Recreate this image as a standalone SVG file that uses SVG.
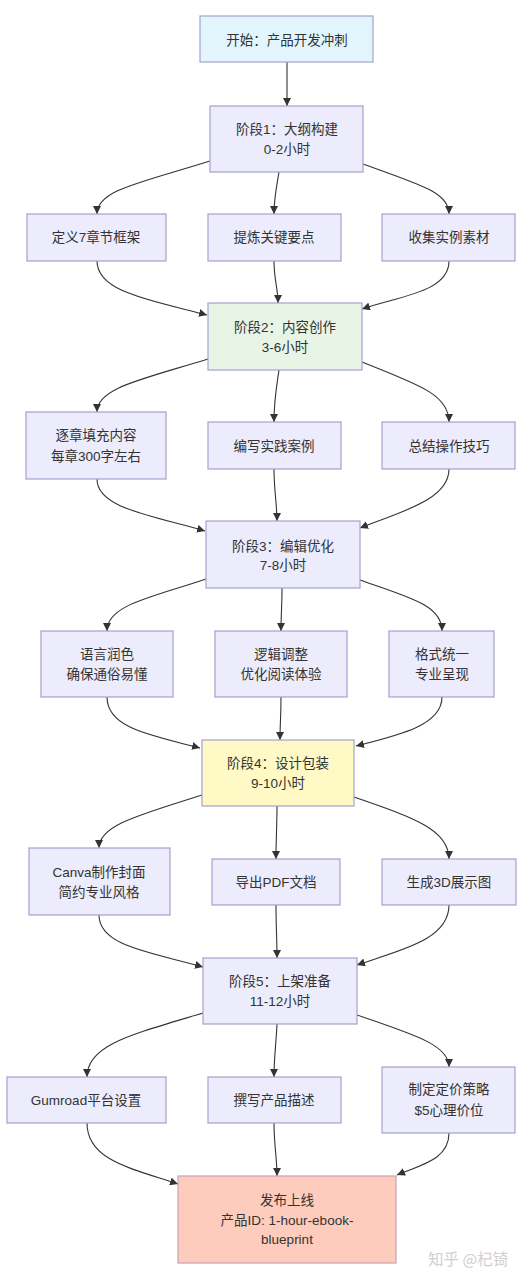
<svg xmlns="http://www.w3.org/2000/svg" width="531" height="1280" viewBox="0 0 531 1280">
<style>
.n rect{fill:#ececfc;stroke:#a5a1cc;stroke-width:1.2}
.n text{font-family:"Liberation Sans","Noto Sans CJK SC",sans-serif;font-size:13.5px;fill:#333;text-anchor:middle;dominant-baseline:central}
#start rect{fill:#e2f5fd}
#s2 rect{fill:#e8f5e6}
#s4 rect{fill:#fff9c6}
#final rect{fill:#fdccbc;stroke:#c7a3b0}
.e path{fill:none;stroke:#333;stroke-width:1.1;marker-end:url(#ah)}
.wm{font-family:"Noto Sans CJK SC",sans-serif;font-size:15.5px;fill:#cfcfcf}
</style>
<defs>
<marker id="ah" viewBox="0 0 10 10" refX="10" refY="5" markerWidth="8" markerHeight="8" markerUnits="userSpaceOnUse" orient="auto">
<path d="M0,0 L10,5 L0,10 z" fill="#333"/>
</marker>
</defs>
<rect width="531" height="1280" fill="#fff"/>
<g class="e">
<path d="M287,62 L287,106"/>
<path d="M210,161 C140,183 97,190 97,214"/>
<path d="M279,172 C276,190 274,198 274,214"/>
<path d="M363,164 C420,185 449,192 449,214"/>
<path d="M97,261 C97,292 150,300 207,315"/>
<path d="M274,261 C274,280 278,288 278,303"/>
<path d="M449,261 C449,292 400,296 362,309"/>
<path d="M208,359 C140,380 97,388 97,412"/>
<path d="M279,370 C276,390 274,400 274,422"/>
<path d="M362,362 C420,385 449,395 449,422"/>
<path d="M97,479 C97,508 150,515 205,531"/>
<path d="M274,469 C274,490 277,505 277,521"/>
<path d="M449,469 C449,500 400,512 360,528"/>
<path d="M206,579 C150,598 107,605 107,631"/>
<path d="M282,588 C282,605 281,615 281,631"/>
<path d="M360,580 C410,598 442,605 442,631"/>
<path d="M107,697 C107,728 150,735 200,748"/>
<path d="M281,697 C281,715 280,725 280,740"/>
<path d="M442,697 C442,725 400,735 356,746"/>
<path d="M202,795 C140,815 99,825 99,848"/>
<path d="M277,806 C277,825 276,840 276,859"/>
<path d="M354,797 C415,818 449,830 449,859"/>
<path d="M99,915 C99,946 150,952 203,967"/>
<path d="M276,905 C276,925 277,940 277,958"/>
<path d="M449,905 C449,940 400,950 357,965"/>
<path d="M203,1013 C130,1035 87,1045 87,1077"/>
<path d="M277,1024 C276,1045 274,1058 274,1077"/>
<path d="M357,1015 C415,1035 449,1045 449,1067"/>
<path d="M87,1123 C87,1160 130,1168 178,1184"/>
<path d="M274,1123 C274,1145 277,1158 277,1176"/>
<path d="M449,1133 C449,1160 420,1165 397,1175"/>
</g>
<g id="start" class="n"><rect x="200" y="16" width="173" height="46"/><text x="287" y="40">开始：产品开发冲刺</text></g>
<g id="s1" class="n"><rect x="210" y="106" width="153" height="66"/><text x="287" y="129">阶段1：大纲构建</text><text x="287" y="149">0-2小时</text></g>
<g id="a1" class="n"><rect x="27" y="214" width="139" height="47"/><text x="96" y="237">定义7章节框架</text></g>
<g id="b1" class="n"><rect x="208" y="214" width="133" height="47"/><text x="274" y="237">提炼关键要点</text></g>
<g id="c1" class="n"><rect x="382" y="214" width="133" height="47"/><text x="449" y="237">收集实例素材</text></g>
<g id="s2" class="n"><rect x="208" y="303" width="154" height="67"/><text x="285" y="327">阶段2：内容创作</text><text x="285" y="347">3-6小时</text></g>
<g id="a2" class="n"><rect x="26" y="412" width="140" height="67"/><text x="96" y="435">逐章填充内容</text><text x="96" y="456">每章300字左右</text></g>
<g id="b2" class="n"><rect x="208" y="422" width="133" height="47"/><text x="274" y="446">编写实践案例</text></g>
<g id="c2" class="n"><rect x="382" y="422" width="133" height="47"/><text x="449" y="446">总结操作技巧</text></g>
<g id="s3" class="n"><rect x="206" y="521" width="154" height="67"/><text x="283" y="546">阶段3：编辑优化</text><text x="283" y="565">7-8小时</text></g>
<g id="a3" class="n"><rect x="41" y="631" width="132" height="66"/><text x="107" y="654">语言润色</text><text x="107" y="674">确保通俗易懂</text></g>
<g id="b3" class="n"><rect x="215" y="631" width="132" height="66"/><text x="281" y="654">逻辑调整</text><text x="281" y="674">优化阅读体验</text></g>
<g id="c3" class="n"><rect x="389" y="631" width="105" height="66"/><text x="442" y="654">格式统一</text><text x="442" y="674">专业呈现</text></g>
<g id="s4" class="n"><rect x="202" y="740" width="152" height="66"/><text x="278" y="763">阶段4：设计包装</text><text x="278" y="783">9-10小时</text></g>
<g id="a4" class="n"><rect x="29" y="848" width="141" height="67"/><text x="99" y="872">Canva制作封面</text><text x="99" y="892">简约专业风格</text></g>
<g id="b4" class="n"><rect x="212" y="859" width="128" height="46"/><text x="276" y="882">导出PDF文档</text></g>
<g id="c4" class="n"><rect x="382" y="859" width="134" height="46"/><text x="449" y="882">生成3D展示图</text></g>
<g id="s5" class="n"><rect x="203" y="958" width="154" height="66"/><text x="280" y="981">阶段5：上架准备</text><text x="280" y="1001">11-12小时</text></g>
<g id="a5" class="n"><rect x="7" y="1077" width="159" height="46"/><text x="86" y="1100">Gumroad平台设置</text></g>
<g id="b5" class="n"><rect x="208" y="1077" width="133" height="46"/><text x="274" y="1100">撰写产品描述</text></g>
<g id="c5" class="n"><rect x="382" y="1067" width="133" height="66"/><text x="449" y="1089">制定定价策略</text><text x="449" y="1110">$5心理价位</text></g>
<g id="final" class="n"><rect x="178" y="1176" width="218" height="87"/><text x="287" y="1200">发布上线</text><text x="287" y="1220">产品ID: 1-hour-ebook-</text><text x="287" y="1239">blueprint</text></g>
<text class="wm" x="428" y="1258" dominant-baseline="central">知乎 @杞锜</text>
</svg>
